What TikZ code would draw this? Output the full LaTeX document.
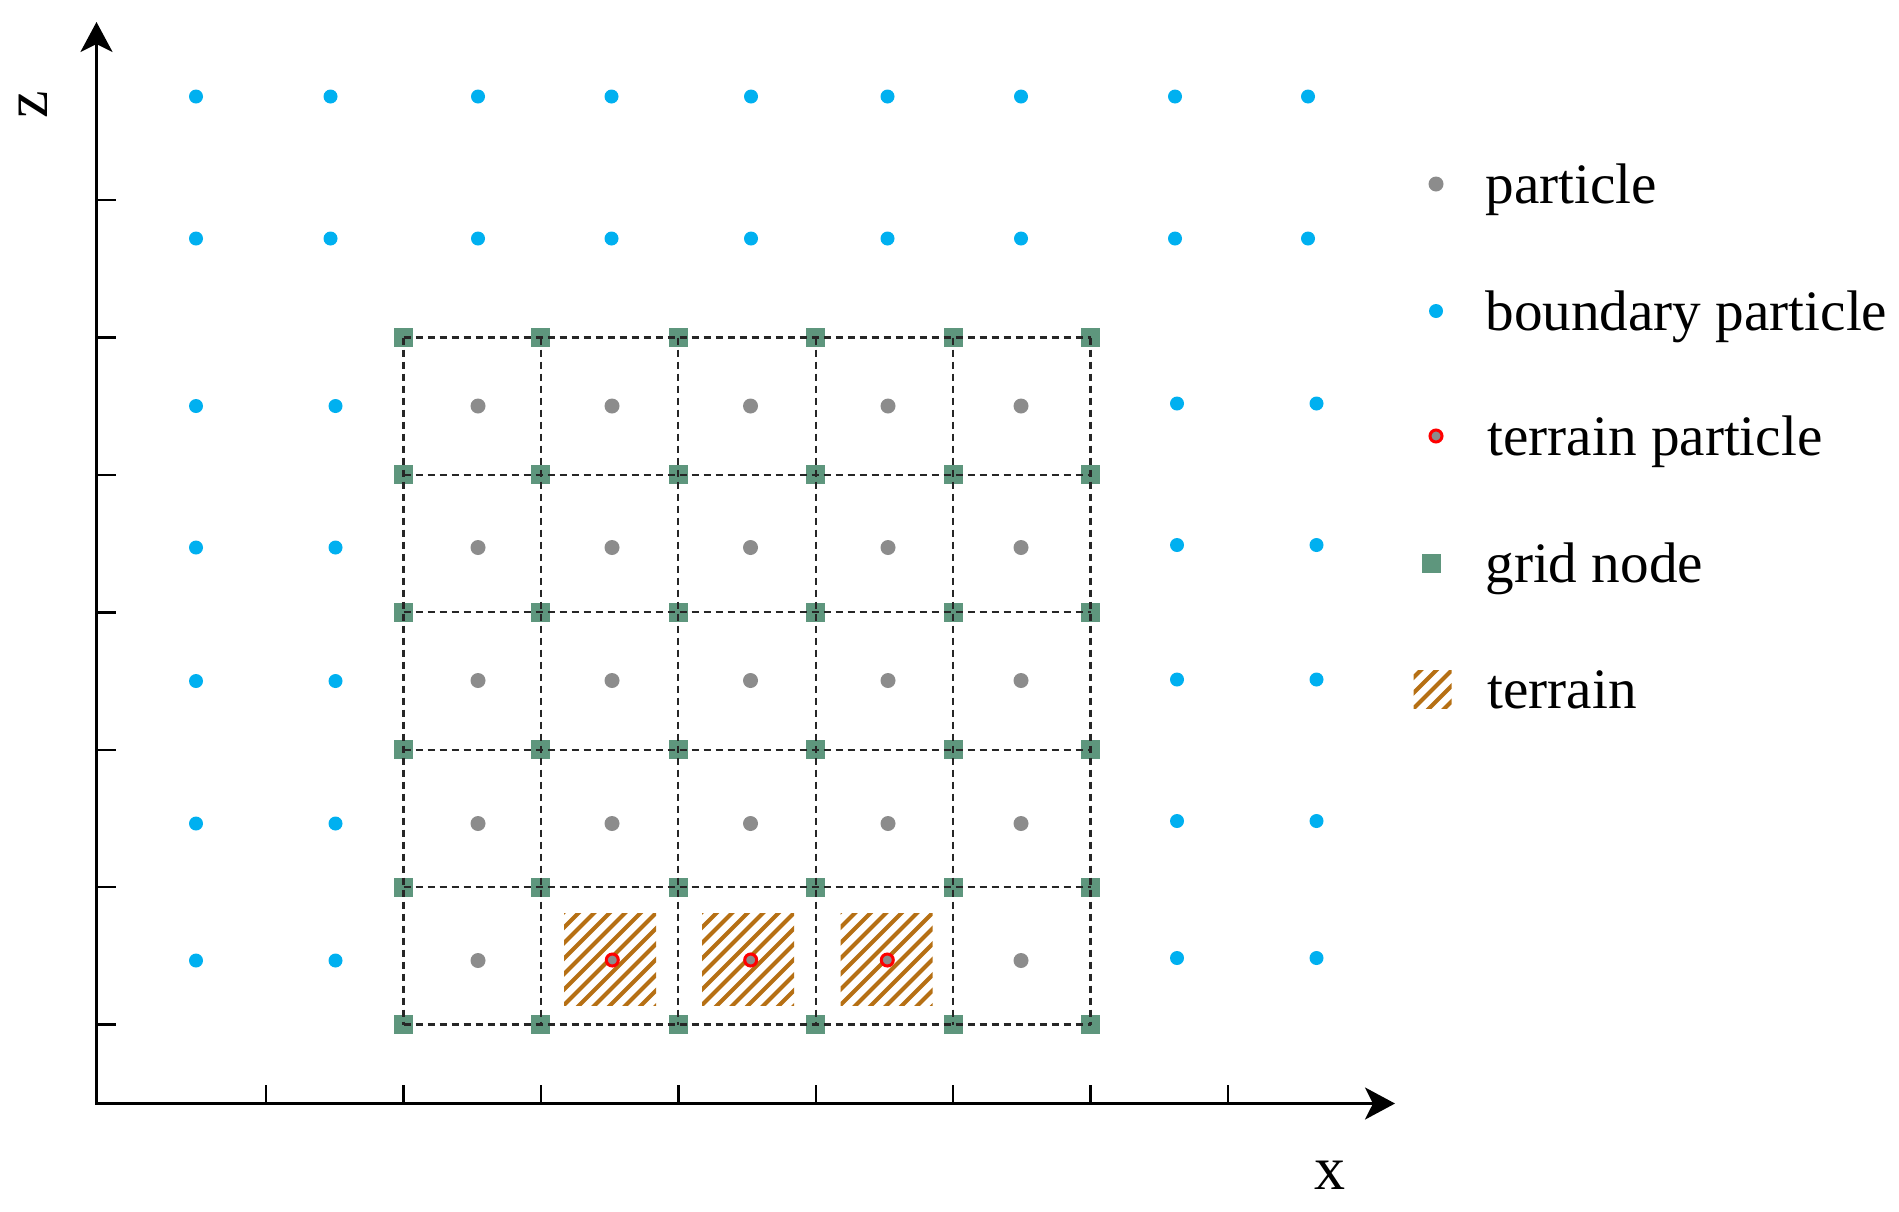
\documentclass[tikz,border=0pt]{standalone}
\usepackage{fontspec}
\setmainfont{Liberation Serif}
\usetikzlibrary{arrows.meta}
\definecolor{partgray}{RGB}{140,140,140}
\definecolor{bndblue}{RGB}{0,176,240}
\definecolor{terred}{RGB}{255,0,0}
\definecolor{gridgreen}{RGB}{94,150,125}
\definecolor{terbrown}{RGB}{182,112,20}
\begin{document}
\begin{tikzpicture}[x=0.5pt,y=-0.5pt,
  axis/.style={line width=1.6pt, {Stealth[length=15pt,width=16pt,inset=4pt]}-{Stealth[length=15pt,width=16pt,inset=4pt]}},
  tickmark/.style={line width=1.2pt},
  gridline/.style={dash pattern=on 3.8pt off 2.2pt, line width=1.1pt, black!85},
  ptcl/.style={circle, fill=partgray, inner sep=0pt, minimum size=7.5pt},
  bnd/.style={circle, fill=bndblue, inner sep=0pt, minimum size=7pt},
  terp/.style={circle, draw=terred, line width=1.5pt, fill=partgray, inner sep=0pt, minimum size=6pt},
  gnode/.style={rectangle, fill=gridgreen, inner sep=0pt, minimum size=9.5pt},
  hatchbox/.style={rectangle, inner sep=0pt, minimum size=#1,
    path picture={\foreach \k in {-8,...,8}{\draw[terbrown, line width=2pt, shift={(path picture bounding box.center)}] (\k*15.5-70,70) -- ++(140,-140);}}},
  lbl/.style={anchor=base west, inner sep=0pt, font=\fontsize{28.6pt}{34pt}\selectfont},
  axlbl/.style={inner sep=0pt, font=\fontsize{31pt}{36pt}\selectfont},
]
\useasboundingbox (0,0) rectangle (1899,1211);

% axes
\coordinate (O) at (96.5,1103.5);
\coordinate (ytip) at (96.5,22);
\coordinate (xtip) at (1395,1103.5);
\draw[axis] (ytip) -- (O) -- (xtip);
\foreach \k in {0,...,7}{\draw[tickmark] (266.1+\k*137.4,1103.5) -- ++(0,-19);}
\foreach \k in {0,...,6}{\draw[tickmark] (96.5,1024.5-\k*137.4) -- ++(19,0);}
\node[axlbl] (xl) at (1330,1175) {x};
\node[axlbl, rotate=90] (zl) at (33.5,104.5) {z};

% terrain hatched cells
\node[hatchbox=46pt] (h1) at (610,959) {};
\node[hatchbox=46pt] (h2) at (748,959) {};
\node[hatchbox=46pt] (h3) at (886.5,959) {};

% grid nodes
\foreach \i in {0,...,5}{
  \foreach \j in {0,...,5}{
    \node[gnode] (g-\i-\j) at (403.5+\i*137.4,337.5+\j*137.4) {};
  }
}
% grid lines
\foreach \j in {0,...,5}{\draw[gridline] (g-0-\j.center) -- (g-5-\j.center);}
\foreach \i in {0,...,5}{\draw[gridline] (g-\i-0.center) -- (g-\i-5.center);}

% particles
\foreach \x [count=\i] in {478,612,750.5,888,1021}{
  \foreach \y [count=\j] in {406,547.5,680.5,823.5}{
    \node[ptcl] (p-\i-\j) at (\x,\y) {};
  }
}
\node[ptcl] (p-1-5) at (478,960.5) {};
\node[ptcl] (p-5-5) at (1021,960.5) {};
\node[terp] (t-1) at (612.3,960) {};
\node[terp] (t-2) at (750.7,960) {};
\node[terp] (t-3) at (887.3,960) {};

% boundary particles
\foreach \x [count=\i] in {196,330.5,478,611.5,751,887.5,1021,1175,1308}{
  \node[bnd] (bt-\i) at (\x,96.5) {};
  \node[bnd] (bs-\i) at (\x,238.5) {};
}
\foreach \y [count=\j] in {406,547.5,681,823.5,960.5}{
  \node[bnd] (bl1-\j) at (196,\y) {};
  \node[bnd] (bl2-\j) at (335.5,\y) {};
}
\foreach \y [count=\j] in {403.5,545,679.5,821,958}{
  \node[bnd] (br1-\j) at (1177,\y) {};
  \node[bnd] (br2-\j) at (1316.5,\y) {};
}

% legend
\node[ptcl] (lg1) at (1436,184) {};
\node[lbl] (lt1) at (1485,203) {particle};
\node[bnd] (lg2) at (1436,311) {};
\node[lbl] (lt2) at (1485,330) {boundary particle};
\node[terp] (lg3) at (1436,436) {};
\node[lbl] (lt3) at (1487,455) {terrain particle};
\node[gnode] (lg4) at (1431,563) {};
\node[lbl] (lt4) at (1485,582) {grid node};
\node[hatchbox=19pt] (lg5) at (1432.5,689.5) {};
\node[lbl] (lt5) at (1487,708) {terrain};
\end{tikzpicture}
\end{document}
